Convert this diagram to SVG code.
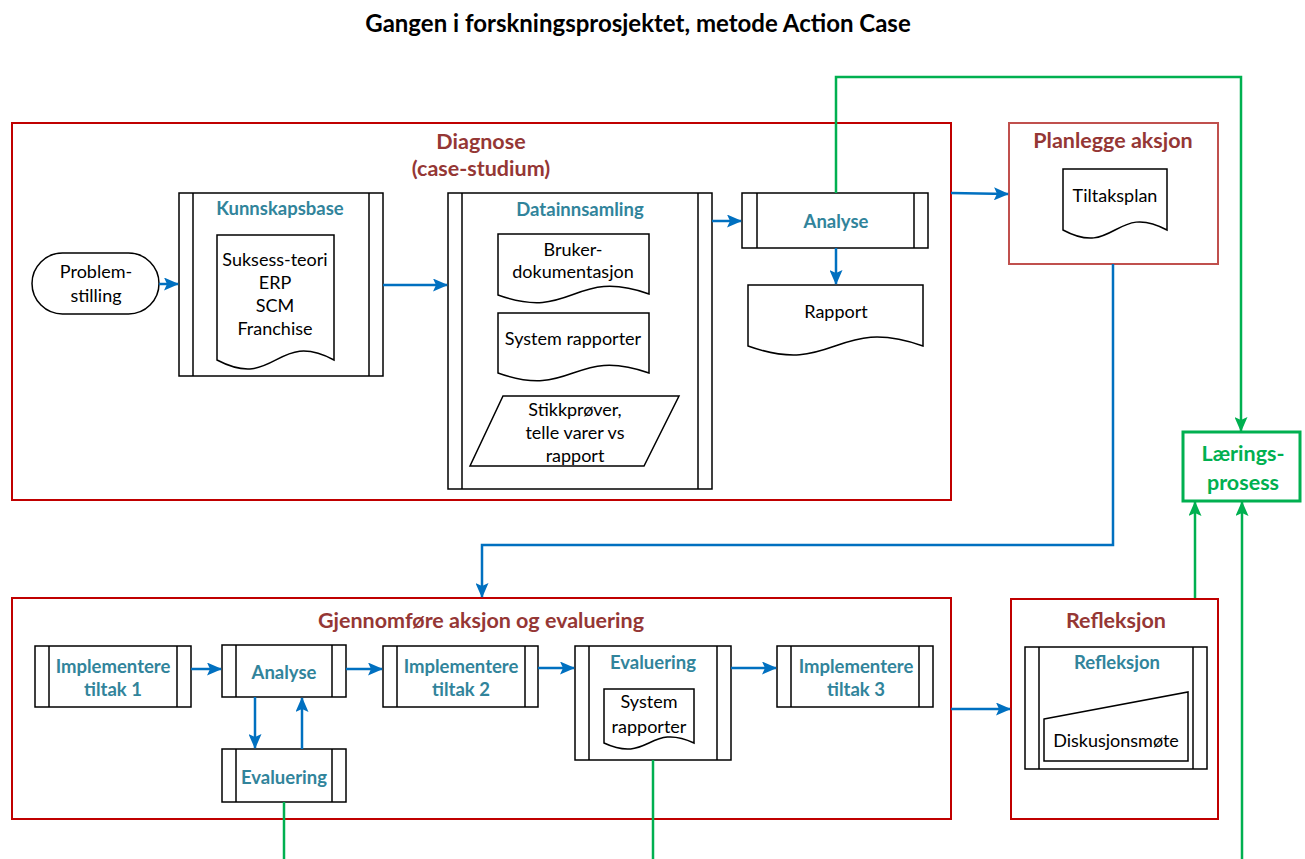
<svg xmlns="http://www.w3.org/2000/svg" width="1305" height="859" viewBox="0 0 1305 859">
  <defs>
    <style>
      text { font-family: Lato, "Open Sans", "Liberation Sans", sans-serif; text-anchor: middle; }
      .title { font-size: 24px; font-weight: bold; fill: #000; }
      .phase { font-size: 21.5px; font-weight: bold; fill: #953735; }
      .step { font-size: 18.5px; font-weight: bold; fill: #31849B; }
      .txt { font-size: 18px; fill: #000; }
      .learn { font-size: 21.5px; font-weight: bold; fill: #00B050; }
      .frame { fill: none; stroke: #C00000; stroke-width: 2; }
      .frame2 { fill: none; stroke: #C0504D; stroke-width: 2; }
      .shape { fill: #fff; stroke: #000; stroke-width: 1.5; }
      .line { fill: none; stroke: #000; stroke-width: 1.5; }
      .blue { fill: none; stroke: #0070C0; stroke-width: 2.5; }
      .green { fill: none; stroke: #00B050; stroke-width: 2.5; }
    </style>
    <marker id="arrB" markerUnits="userSpaceOnUse" markerWidth="15" markerHeight="13" viewBox="0 0 15 13" refX="14" refY="6.5" orient="auto">
      <path d="M0,0 L15,6.5 L0,13 L3,6.5 Z" fill="#0070C0"/>
    </marker>
    <marker id="arrG" markerUnits="userSpaceOnUse" markerWidth="15" markerHeight="13" viewBox="0 0 15 13" refX="14" refY="6.5" orient="auto">
      <path d="M0,0 L15,6.5 L0,13 L3,6.5 Z" fill="#00B050"/>
    </marker>
  </defs>

  <rect width="1305" height="859" fill="#fff"/>

  <text class="title" x="638" y="32">Gangen i forskningsprosjektet, metode Action Case</text>

  <!-- Phase: diagnosis -->
  <g id="diagnose">
    <rect class="frame" x="12" y="123" width="939" height="377"/>
    <text class="phase" x="481" y="148.5">Diagnose</text>
    <text class="phase" x="481" y="175.5">(case-studium)</text>
  </g>

  <g id="problemstilling">
    <rect class="shape" x="32" y="253" width="127" height="61" rx="30.5" ry="30.5"/>
    <text class="txt" x="96" y="278">Problem-</text>
    <text class="txt" x="96" y="302">stilling</text>
  </g>

  <g id="kunnskapsbase">
    <rect class="shape" x="179" y="193" width="204" height="183"/>
    <line class="line" x1="193" y1="193" x2="193" y2="376"/>
    <line class="line" x1="369" y1="193" x2="369" y2="376"/>
    <text class="step" x="280" y="214.5">Kunnskapsbase</text>
    <path class="shape" d="M217,235 H334 V360 C276,329 276,391 217,360 Z"/>
    <text class="txt" x="275" y="266">Suksess-teori</text>
    <text class="txt" x="275" y="289">ERP</text>
    <text class="txt" x="275" y="312">SCM</text>
    <text class="txt" x="275" y="335">Franchise</text>
  </g>

  <g id="datainnsamling">
    <rect class="shape" x="448" y="193" width="264" height="296"/>
    <line class="line" x1="462" y1="193" x2="462" y2="489"/>
    <line class="line" x1="698" y1="193" x2="698" y2="489"/>
    <text class="step" x="580" y="215.5">Datainnsamling</text>
    <path class="shape" d="M498,234 H649 V294 C573,267 573,322 498,295 Z"/>
    <text class="txt" x="573" y="256">Bruker-</text>
    <text class="txt" x="573" y="278">dokumentasjon</text>
    <path class="shape" d="M498,313 H649 V373 C573,346 573,400 498,373 Z"/>
    <text class="txt" x="573" y="345">System rapporter</text>
    <path class="shape" d="M503,396 H679 L644,466 H470 Z"/>
    <text class="txt" x="575" y="416">Stikkprøver,</text>
    <text class="txt" x="575" y="439">telle varer vs</text>
    <text class="txt" x="575" y="462">rapport</text>
  </g>

  <g id="analyse-diagnose">
    <rect class="shape" x="742" y="193" width="186" height="55"/>
    <line class="line" x1="757" y1="193" x2="757" y2="248"/>
    <line class="line" x1="914" y1="193" x2="914" y2="248"/>
    <text class="step" x="836" y="227.5">Analyse</text>
  </g>

  <g id="rapport">
    <path class="shape" d="M748,285 H923 V346 C835,315 835,377 748,346 Z"/>
    <text class="txt" x="836" y="318">Rapport</text>
  </g>

  <!-- Phase: planning -->
  <g id="planlegge">
    <rect class="frame2" x="1009" y="123" width="209" height="141"/>
    <text class="phase" x="1113" y="147.5">Planlegge aksjon</text>
    <path class="shape" d="M1063,169 H1167 V230 C1115,202 1115,258 1063,230 Z"/>
    <text class="txt" x="1115" y="202">Tiltaksplan</text>
  </g>

  <!-- Learning process -->
  <g id="laeringsprosess">
    <rect x="1183" y="432" width="117" height="69" fill="#fff" stroke="#00B050" stroke-width="3"/>
    <text class="learn" x="1243" y="460.5">Lærings-</text>
    <text class="learn" x="1243" y="489.5">prosess</text>
  </g>

  <!-- Phase: action and evaluation -->
  <g id="gjennomfore">
    <rect class="frame" x="12" y="598" width="939" height="221"/>
    <text class="phase" x="481" y="627.5">Gjennomføre aksjon og evaluering</text>
  </g>

  <g id="implementere-1">
    <rect class="shape" x="35" y="646" width="156" height="61"/>
    <line class="line" x1="49" y1="646" x2="49" y2="707"/>
    <line class="line" x1="177" y1="646" x2="177" y2="707"/>
    <text class="step" x="113" y="672.5">Implementere</text>
    <text class="step" x="113" y="695.5">tiltak 1</text>
  </g>

  <g id="analyse-aksjon">
    <rect class="shape" x="222" y="645" width="124" height="52"/>
    <line class="line" x1="236" y1="645" x2="236" y2="697"/>
    <line class="line" x1="332" y1="645" x2="332" y2="697"/>
    <text class="step" x="284" y="678.5">Analyse</text>
  </g>

  <g id="evaluering-1">
    <rect class="shape" x="222" y="749" width="124" height="53"/>
    <line class="line" x1="236" y1="749" x2="236" y2="802"/>
    <line class="line" x1="332" y1="749" x2="332" y2="802"/>
    <text class="step" x="284" y="783.5">Evaluering</text>
  </g>

  <g id="implementere-2">
    <rect class="shape" x="383" y="646" width="155" height="61"/>
    <line class="line" x1="397" y1="646" x2="397" y2="707"/>
    <line class="line" x1="525" y1="646" x2="525" y2="707"/>
    <text class="step" x="461" y="672.5">Implementere</text>
    <text class="step" x="461" y="695.5">tiltak 2</text>
  </g>

  <g id="evaluering-2">
    <rect class="shape" x="575" y="646" width="156" height="114"/>
    <line class="line" x1="589" y1="646" x2="589" y2="760"/>
    <line class="line" x1="717" y1="646" x2="717" y2="760"/>
    <text class="step" x="653" y="668.5">Evaluering</text>
    <path class="shape" d="M604,689 H694 V743 C649,722 649,764 604,743 Z"/>
    <text class="txt" x="649" y="708">System</text>
    <text class="txt" x="649" y="733">rapporter</text>
  </g>

  <g id="implementere-3">
    <rect class="shape" x="777" y="646" width="156" height="61"/>
    <line class="line" x1="791" y1="646" x2="791" y2="707"/>
    <line class="line" x1="919" y1="646" x2="919" y2="707"/>
    <text class="step" x="856" y="672.5">Implementere</text>
    <text class="step" x="856" y="695.5">tiltak 3</text>
  </g>

  <!-- Phase: reflection -->
  <g id="refleksjon">
    <rect class="frame" x="1011" y="599" width="207" height="220"/>
    <text class="phase" x="1116" y="627.5">Refleksjon</text>
    <rect class="shape" x="1025" y="647" width="182" height="122"/>
    <line class="line" x1="1039" y1="647" x2="1039" y2="769"/>
    <line class="line" x1="1193" y1="647" x2="1193" y2="769"/>
    <text class="step" x="1117" y="668.5">Refleksjon</text>
    <path class="shape" d="M1044,719 L1188,692 V761 H1044 Z"/>
    <text class="txt" x="1116" y="747">Diskusjonsmøte</text>
  </g>

  <!-- Connectors -->
  <g id="connectors">
    <line class="blue" x1="159" y1="284" x2="178" y2="284" marker-end="url(#arrB)"/>
    <line class="blue" x1="383" y1="285" x2="447" y2="285" marker-end="url(#arrB)"/>
    <line class="blue" x1="712" y1="221" x2="741" y2="221" marker-end="url(#arrB)"/>
    <line class="blue" x1="836" y1="248" x2="836" y2="284" marker-end="url(#arrB)"/>
    <line class="blue" x1="951" y1="193" x2="1008" y2="194" marker-end="url(#arrB)"/>
    <polyline class="blue" points="1113,264 1113,545 482,545 482,597" marker-end="url(#arrB)"/>
    <line class="blue" x1="191" y1="669" x2="221" y2="669" marker-end="url(#arrB)"/>
    <line class="blue" x1="346" y1="669" x2="382" y2="669" marker-end="url(#arrB)"/>
    <line class="blue" x1="255" y1="697" x2="255" y2="748" marker-end="url(#arrB)"/>
    <line class="blue" x1="302" y1="749" x2="302" y2="698" marker-end="url(#arrB)"/>
    <line class="blue" x1="538" y1="668" x2="574" y2="668" marker-end="url(#arrB)"/>
    <line class="blue" x1="731" y1="668" x2="776" y2="668" marker-end="url(#arrB)"/>
    <line class="blue" x1="951" y1="709" x2="1010" y2="709" marker-end="url(#arrB)"/>
    <polyline class="green" points="836,193 836,77 1241,77 1241,431" marker-end="url(#arrG)"/>
    <line class="green" x1="1195" y1="598" x2="1195" y2="502" marker-end="url(#arrG)"/>
    <line class="green" x1="1242" y1="859" x2="1242" y2="502" marker-end="url(#arrG)"/>
    <line class="green" x1="284" y1="802" x2="284" y2="859"/>
    <line class="green" x1="653" y1="760" x2="653" y2="859"/>
  </g>
</svg>
